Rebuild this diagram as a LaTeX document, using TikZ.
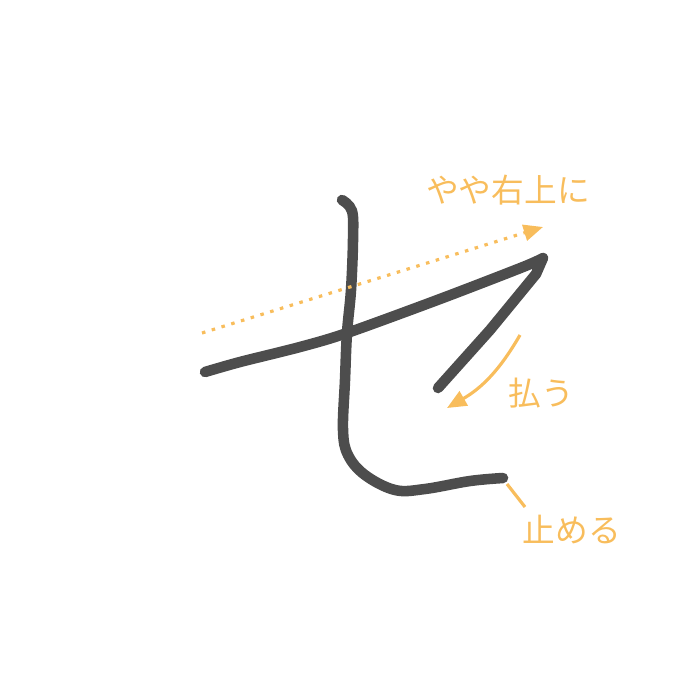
\documentclass[tikz,border=0pt]{standalone}
\usepackage{fontspec}
\newfontfamily\jpfont{Noto Sans CJK JP}
\usetikzlibrary{arrows.meta}
\definecolor{ink}{HTML}{4D4D4D}
\definecolor{note}{HTML}{F8BD5C}

\begin{document}
\begin{tikzpicture}[x=0.01cm,y=-0.01cm,
		stroke/.style={ink,line width=3pt,line cap=round,line join=round},
		hint/.style={note,line width=0.9pt},
		label/.style={note,font=\jpfont\fontsize{9.3pt}{10pt}\selectfont,inner sep=0pt}]
		
		\useasboundingbox (0,0) rectangle (700,700);
		
		% First stroke: rising line, then sweep down to the left
		\draw[stroke] plot[smooth,tension=0.5] coordinates {(205,372) (240,362) (300,347) (347,333) (440,299) (523,267) (543,258)}
		-- (536,274) -- (490,330) -- (438,388);
		
		% Second stroke: down, then curve to the right and stop
		\draw[stroke] plot[smooth,tension=0.6] coordinates {(342,200) (352,211) (353,240) (351,290) (347,333) (345,380) (343,430) (348,455) (365,475) (395,490) (425,489) (470,481) (503,478)};
		
		% Hint points
		\coordinate (tiltA) at (202,333);
		\coordinate (tiltB) at (543,227);
		\coordinate (sweepA) at (520,335);
		\coordinate (sweepB) at (447,408);
		\coordinate (stopA) at (507,484);
		\coordinate (stopB) at (525,507);
		
		% Labels
		\node[label] (tilt) at (508,190) {やや右上に};
		\node[label] (sweep) at (541,393) {払う};
		\node[label] (stop) at (572,530) {止める};
		
		% Hint arrows
		\draw[hint,dash pattern=on 1pt off 1.9pt,-{Triangle[length=5.5pt,width=4.6pt]}] (tiltA) -- (tiltB);
		\draw[hint,-{Triangle[length=5.5pt,width=4.6pt]}] (sweepA) to[bend left=15] (sweepB);
		\draw[hint] (stopA) -- (stopB);
		
	\end{tikzpicture}
\end{document}
